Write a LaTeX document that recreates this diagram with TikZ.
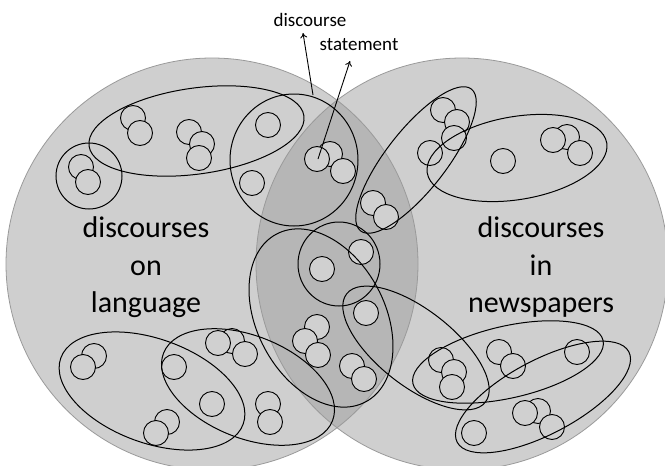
\documentclass[tikz,border=0pt]{standalone}
\usepackage{fontspec}
\setmainfont{Carlito}
\usetikzlibrary{arrows.meta}
\definecolor{vennfill}{HTML}{CFCFCF}
\definecolor{lensfill}{HTML}{B6B6B6}
\definecolor{vennrim}{HTML}{9A9A9A}
\definecolor{dotfill}{HTML}{D0D0D0}
\tikzset{
  dot/.style={draw=black, fill=dotfill, line width=0.9pt},
  group/.style={draw=black, line width=1pt},
  biglabel/.style={anchor=base, inner sep=0pt, font=\fontsize{30}{36}\selectfont},
  smalllabel/.style={anchor=base, inner sep=0pt, font=\fontsize{19}{23}\selectfont},
  pointer/.style={draw=black, line width=0.9pt, -{To[length=5pt,width=7pt]}}
}
\begin{document}
\begin{tikzpicture}[x=1pt, y=-1pt]
\useasboundingbox (0,0) rectangle (665,466);
\clip (0,0) rectangle (665,466);
% the two sets and their overlap
\fill[vennfill] (212,264) circle (206);
\fill[vennfill] (462,264) circle (206);
\begin{scope}
  \clip (212,264) circle (206);
  \fill[lensfill] (462,264) circle (206);
\end{scope}
\draw[vennrim, line width=0.8pt] (212,264) circle (206);
\draw[vennrim, line width=0.8pt] (462,264) circle (206);
% statements
\foreach \p in {
  (81,167), (88,182),
  (133,118), (140,133), (189,132), (202,144), (199,158),
  (268,125), (252,183), (330,154), (317,159), (343,171),
  (443,110), (457,122), (454,138), (430,153), (373,203), (386,217),
  (503,161), (567,137), (553,140), (580,153),
  (322,269), (361,252),
  (317,327), (305,341), (318,355), (352,366), (364,379),
  (366,313),
  (441,360), (454,372), (452,387), (499,352), (513,366), (577,352),
  (474,433), (538,411), (525,413), (552,427),
  (94,356), (83,367), (167,422), (156,433),
  (174,367), (212,404), (232,341), (218,343), (245,354), (268,404), (270,422)}
  \draw[dot] \p circle (12.5);
% discourses grouping the statements
\draw[group] (89,176) circle (33);
\draw[group, rotate around={8:(196.5,131)}] (196.5,131) ellipse [x radius=108.5, y radius=43];
\draw[group] (294,160) ellipse [x radius=64, y radius=66];
\draw[group, rotate around={52:(416,160)}] (416,160) ellipse [x radius=90, y radius=30];
\draw[group, rotate around={9.5:(517,158)}] (517,158) ellipse [x radius=91, y radius=41.5];
\draw[group] (339,264) ellipse [x radius=41, y radius=42];
\draw[group, rotate around={-62:(321,318)}] (321,318) ellipse [x radius=95, y radius=64];
\draw[group, rotate around={-38:(416,348)}] (416,348) ellipse [x radius=88, y radius=38];
\draw[group, rotate around={12.8:(508,362)}] (508,362) ellipse [x radius=97.5, y radius=36];
\draw[group, rotate around={27.8:(543,397)}] (543,397) ellipse [x radius=97, y radius=37];
\draw[group, rotate around={-20:(152,391)}] (152,391) ellipse [x radius=97, y radius=52];
\draw[group, rotate around={-22:(248,387)}] (248,387) ellipse [x radius=91, y radius=51];
% set labels
\node[biglabel] (l1) at (146,237) {discourses};
\node[biglabel] (l2) at (146,275) {on};
\node[biglabel] (l3) at (146,312) {language};
\node[biglabel] (r1) at (541,237) {discourses};
\node[biglabel] (r2) at (541,275) {in};
\node[biglabel] (r3) at (541,312) {newspapers};
% callouts
\node[smalllabel] (discourse) at (310,26.7) {discourse};
\node[smalllabel] (statement) at (359,50.7) {statement};
\coordinate (discFrom) at (313,95);
\coordinate (discTip) at (303,33);
\coordinate (stmtFrom) at (318,159);
\coordinate (stmtTip) at (350,61);
\draw[pointer] (discFrom) -- (discTip);
\draw[pointer] (stmtFrom) -- (stmtTip);
\end{tikzpicture}
\end{document}
